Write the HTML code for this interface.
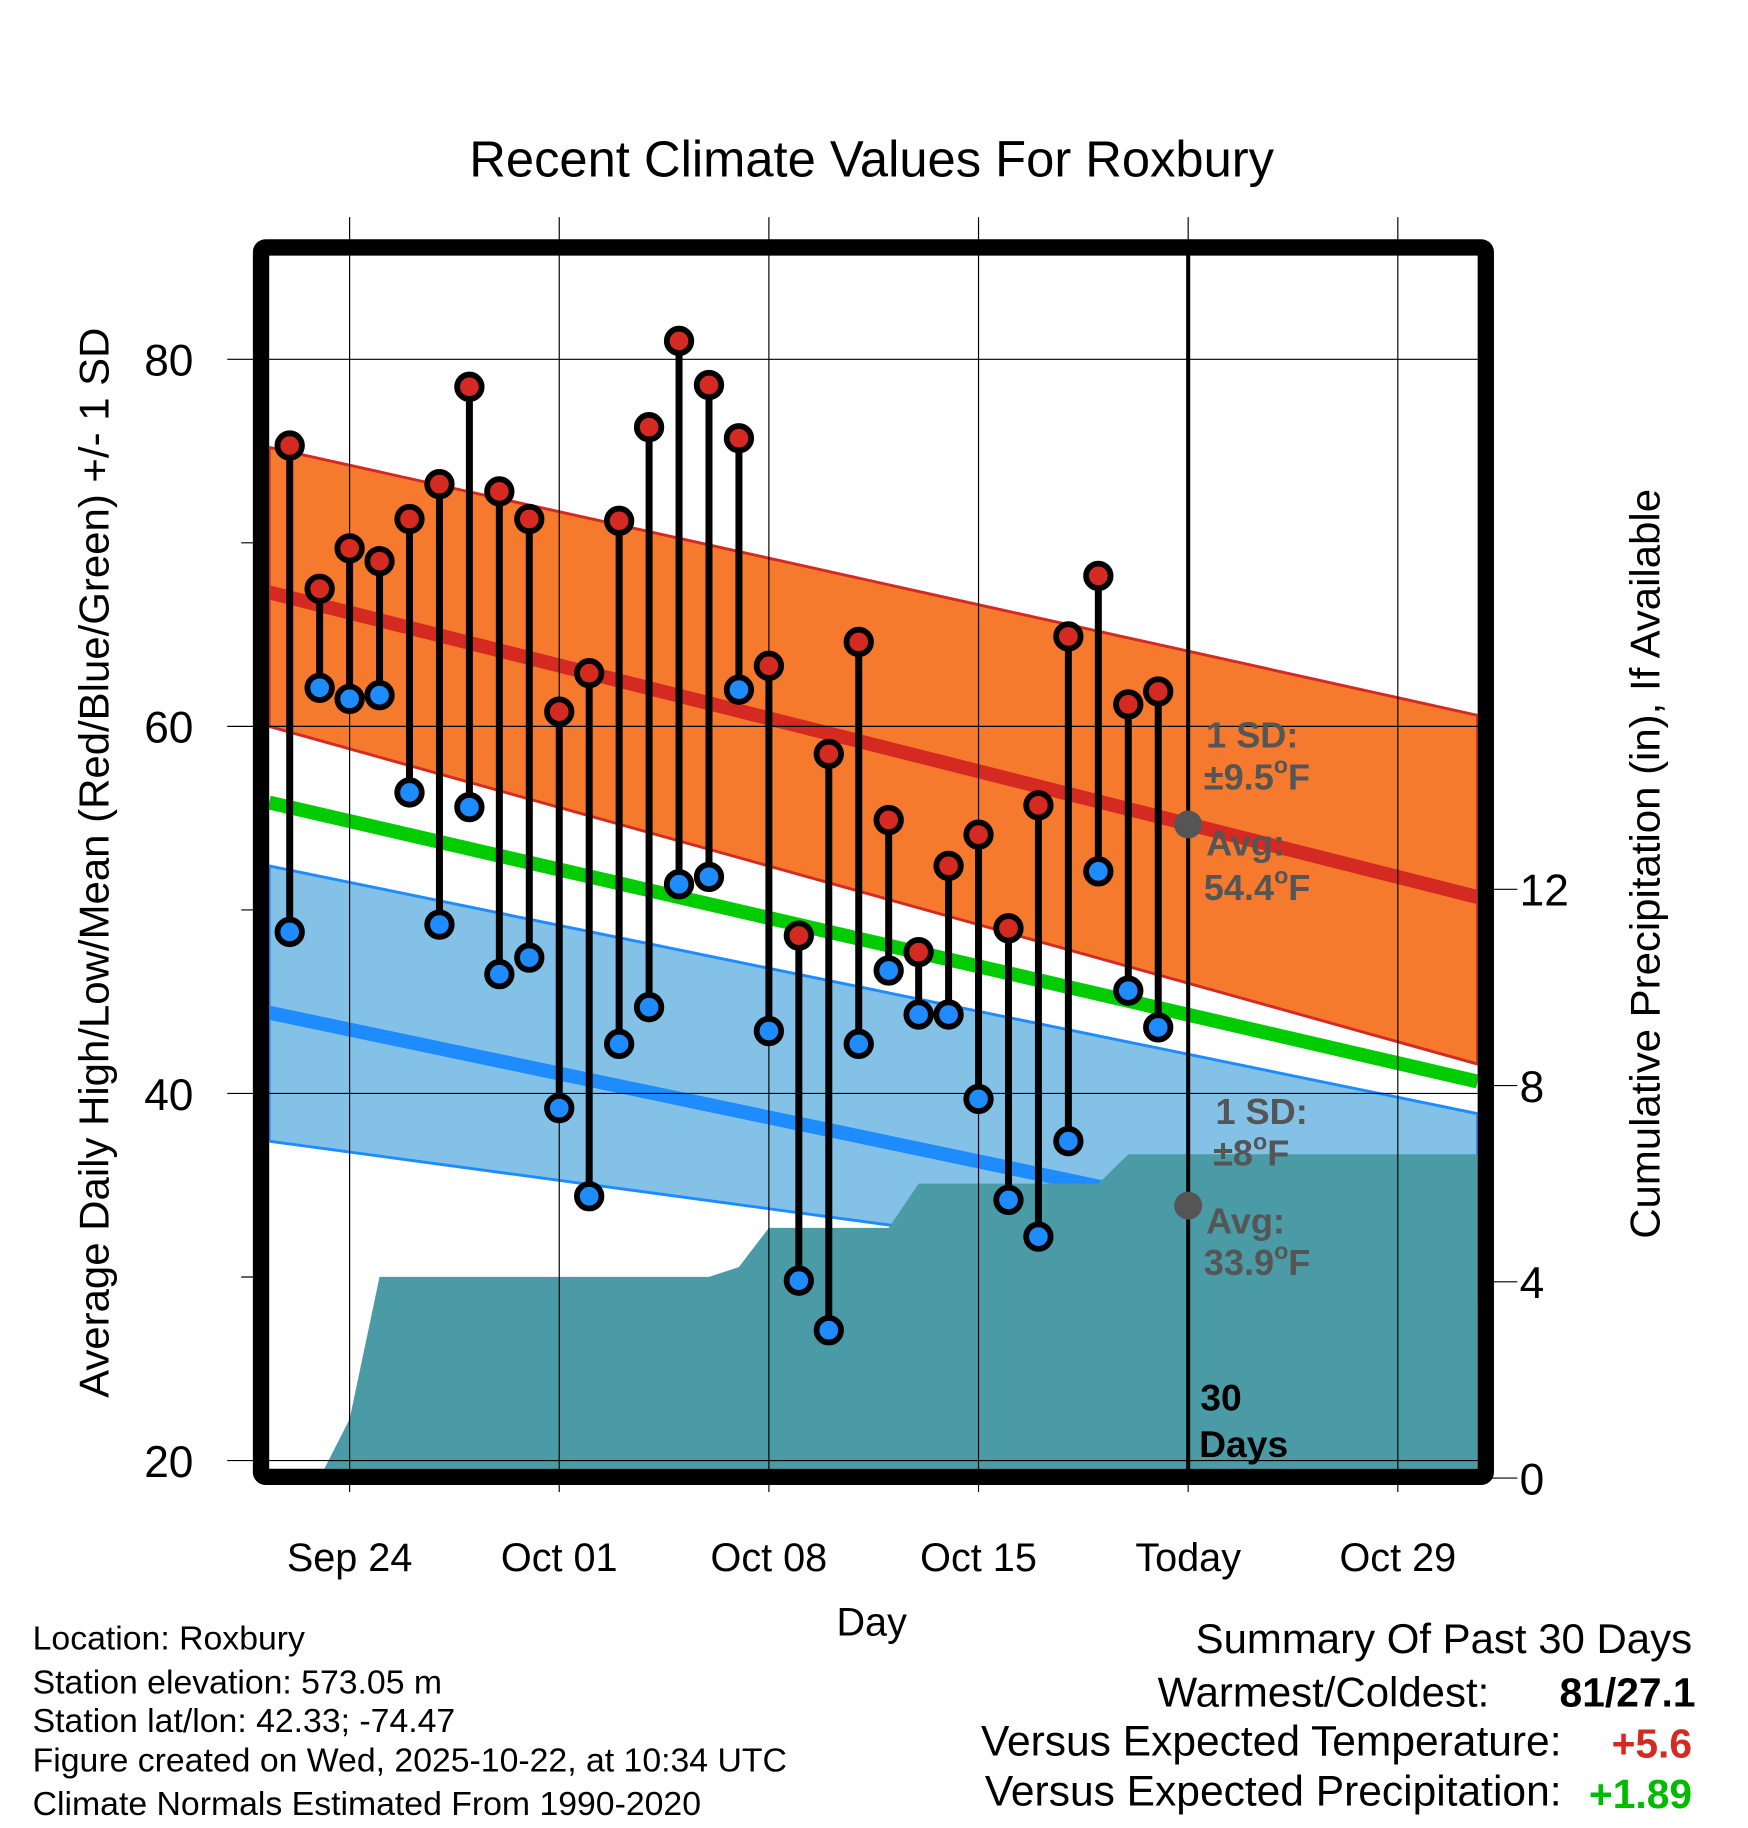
<!DOCTYPE html>
<html><head><meta charset="utf-8"><style>
html,body{margin:0;padding:0;background:#fff}
svg{display:block}
text{font-family:"Liberation Sans",sans-serif}
</style></head><body>
<svg id="chart" width="1748" height="1828" viewBox="0 0 1500 1568" xmlns="http://www.w3.org/2000/svg">
<rect width="1500" height="1568" fill="#fff"/>
<g id="layer"></g>
</svg>
<script>
const days = [-2,-1,0,1,2,3,4,5,6,7,8,9,10,11,12,13,14,15,16,17,18,19,20,21,22,23,24,25,26,27];
const highs = [75.3,67.5,69.7,69.0,71.3,73.2,78.5,72.8,71.3,60.8,62.9,71.2,76.3,81.0,78.6,75.7,63.3,48.6,58.5,64.6,54.9,47.7,52.4,54.1,49.0,55.7,64.9,68.2,61.2,61.9];
const lows = [48.8,62.1,61.5,61.7,56.4,49.2,55.6,46.5,47.4,39.2,34.4,42.7,44.7,51.4,51.8,62.0,43.4,29.8,27.1,42.7,46.7,44.3,44.3,39.7,34.2,32.2,37.4,52.1,45.6,43.6];
const precip = [0,0,1.2,4.1,4.1,4.1,4.1,4.1,4.1,4.1,4.1,4.1,4.1,4.1,4.1,4.3,5.1,5.1,5.1,5.1,5.1,6.0,6.0,6.0,6.0,6.0,6.0,6.0,6.6,6.6];
const normHighEnds = [67.3,50.7];
const normLowEnds = [44.4,30.6];
const highUpperEnds = [75.2,60.6];
const highLowerEnds = [60.0,41.6];
const lowUpperEnds = [52.4,38.9];
const lowLowerEnds = [37.4,28.5];
const xTickDays = [0,7,14,21,28,35];
const xTickLabels = ["Sep 24","Oct 01","Oct 08","Oct 15","Today","Oct 29"];
const yTicks = [20,40,60,80];
const yMinor = [30,50,70];
const pTicks = [0,4,8,12];

const X0=231,X1=1268,D0=-2.7,D1=37.6;
const x = d => 300 + d*25.7;
const y = t => 308 + (80-t)*15.75;
const yp = p => 1268 - p*42.1;
const NS="http://www.w3.org/2000/svg";
const L=document.getElementById('layer');
function mk(tag,attrs,parent){const e=document.createElementNS(NS,tag);for(const k in attrs)e.setAttribute(k,attrs[k]);(parent||L).appendChild(e);return e;}
function txt(s,attrs){const e=mk('text',attrs);e.textContent=s;return e;}
const lerp=(ends,d)=>ends[0]+(ends[1]-ends[0])*(d-D0)/(D1-D0);

const defs=mk('defs',{});const cp=mk('clipPath',{id:'pc'},defs);mk('rect',{x:X0,y:219,width:X1-X0,height:1041},cp);
const G=mk('g',{'clip-path':'url(#pc)'});

let e=mk('polygon',{points:`${X0},${y(highUpperEnds[0])} ${X1},${y(highUpperEnds[1])} ${X1},${y(highLowerEnds[1])} ${X0},${y(highLowerEnds[0])}`,fill:'#f57a2e',stroke:'#d42a22','stroke-width':2.5},G);

e=mk('polygon',{points:`${X0},${y(lowUpperEnds[0])} ${X1},${y(lowUpperEnds[1])} ${X1},${y(lowLowerEnds[1])} ${X0},${y(lowLowerEnds[0])}`,fill:'#84c1e6',stroke:'#1e8cff','stroke-width':2.5},G);

e=mk('line',{x1:X0,y1:y(lerp(normHighEnds,D0)),x2:X1,y2:y(lerp(normHighEnds,D1)),stroke:'#d42a22','stroke-width':12},G);

e=mk('line',{x1:X0,y1:y(lerp(normLowEnds,D0)),x2:X1,y2:y(lerp(normLowEnds,D1)),stroke:'#1e8cff','stroke-width':12},G);

e=mk('line',{x1:X0,y1:y((lerp(normHighEnds,D0)+lerp(normLowEnds,D0))/2),x2:X1,y2:y((lerp(normHighEnds,D1)+lerp(normLowEnds,D1))/2),stroke:'#00cc00','stroke-width':12},G);


xTickDays.forEach(d=>{mk('line',{x1:x(d),y1:186,x2:x(d),y2:1280,stroke:'#000','stroke-width':1});});
yTicks.forEach(t=>{mk('line',{x1:195,y1:y(t),x2:X1,y2:y(t),stroke:'#000','stroke-width':1});});
yMinor.forEach(t=>{mk('line',{x1:207,y1:y(t),x2:224,y2:y(t),stroke:'#000','stroke-width':1});});
pTicks.forEach(p=>{mk('line',{x1:1275,y1:yp(p),x2:1302,y2:yp(p),stroke:'#000','stroke-width':1});});

let pts=`${x(days[0])},${yp(0)} `;
days.forEach((d,i)=>{pts+=`${x(d)},${yp(precip[i])} `;});
pts+=`${X1},${yp(precip[precip.length-1])} ${X1},${yp(0)}`;
e=mk('polygon',{points:pts,fill:'#4a9ba6'},G);


e=mk('line',{x1:x(28),y1:212,x2:x(28),y2:1262,stroke:'#000','stroke-width':3.5});


days.forEach((d,i)=>{
  const b=mk('line',{x1:x(d),y1:y(highs[i]),x2:x(d),y2:y(lows[i]),stroke:'#000','stroke-width':6});
  
  
});
days.forEach((d,i)=>{
  const h=mk('circle',{cx:x(d),cy:y(highs[i]),r:10.5,fill:'#d42a22',stroke:'#000','stroke-width':5});
  
  
  const l=mk('circle',{cx:x(d),cy:y(lows[i]),r:10.5,fill:'#1e8cff',stroke:'#000','stroke-width':5});
  
  
});

mk('circle',{cx:x(28),cy:y(lerp(normHighEnds,28)),r:12,fill:'#555'});
mk('circle',{cx:x(28),cy:y(lerp(normLowEnds,28)),r:12,fill:'#555'});
const an={fill:'#555','font-size':31,'font-weight':'bold'};
function deg(pre,attrs){const t=mk('text',attrs);t.appendChild(document.createTextNode(pre));const s=mk('tspan',{'font-size':20,dy:-14},t);s.textContent='o';const f=mk('tspan',{dy:14},t);f.textContent='F';return t;}
txt('1 SD:',{...an,x:1035,y:641});
deg('±9.5',{...an,x:1033,y:677});
txt('Avg:',{...an,x:1035,y:734});
deg('54.4',{...an,x:1033,y:772});
txt('1 SD:',{...an,x:1043,y:964});
deg('±8',{...an,x:1041,y:1000});
txt('Avg:',{...an,x:1035,y:1058});
deg('33.9',{...an,x:1033,y:1094});
txt('30',{x:1030,y:1210,'font-size':32,'font-weight':'bold',fill:'#000'});
txt('Days',{x:1029,y:1250,'font-size':32,'font-weight':'bold',fill:'#000'});

e=mk('rect',{x:224,y:212,width:1051,height:1055,fill:'none',stroke:'#000','stroke-width':14,rx:4});


yTicks.forEach(t=>{const s=txt(String(t),{x:166,y:y(t)+14,'font-size':38,'text-anchor':'end'});});
pTicks.forEach(p=>{const s=txt(String(p),{x:1304,y:yp(p)+14,'font-size':38});});
xTickDays.forEach((d,i)=>{const s=txt(xTickLabels[i],{x:x(d),y:1348,'font-size':34,'text-anchor':'middle'});});

txt('Recent Climate Values For Roxbury',{x:748,y:151,'font-size':43.5,'text-anchor':'middle'});
txt('Day',{x:748,y:1403,'font-size':34,'text-anchor':'middle'});
txt('Average Daily High/Low/Mean (Red/Blue/Green) +/- 1 SD',{x:0,y:0,'font-size':36,'text-anchor':'middle',transform:'translate(93,740) rotate(-90)'});
txt('Cumulative Precipitation (in), If Available',{x:0,y:0,'font-size':36,'text-anchor':'middle',transform:'translate(1424,741) rotate(-90)'});

const info=['Location: Roxbury','Station elevation: 573.05 m','Station lat/lon: 42.33; -74.47','Figure created on Wed, 2025-10-22, at 10:34 UTC','Climate Normals Estimated From 1990-2020'];
const infoY=[1415,1453,1486,1520,1557];
info.forEach((s,i)=>{const t=txt(s,{x:28,y:infoY[i],'font-size':29});});

txt('Summary Of Past 30 Days',{x:1452,y:1418,'font-size':36,'text-anchor':'end'});
txt('Warmest/Coldest:',{x:1278,y:1464,'font-size':36,'text-anchor':'end'});
txt('81/27.1',{x:1455,y:1464,'font-size':35,'text-anchor':'end','font-weight':'bold'});
txt('Versus Expected Temperature:',{x:1340,y:1506,'font-size':36.5,'text-anchor':'end'});
txt('+5.6',{x:1452,y:1508,'font-size':35,'text-anchor':'end','font-weight':'bold',fill:'#d42a22'});
txt('Versus Expected Precipitation:',{x:1340,y:1549,'font-size':36.5,'text-anchor':'end'});
txt('+1.89',{x:1452,y:1551,'font-size':35,'text-anchor':'end','font-weight':'bold',fill:'#00bb00'});
</script>
</body></html>
